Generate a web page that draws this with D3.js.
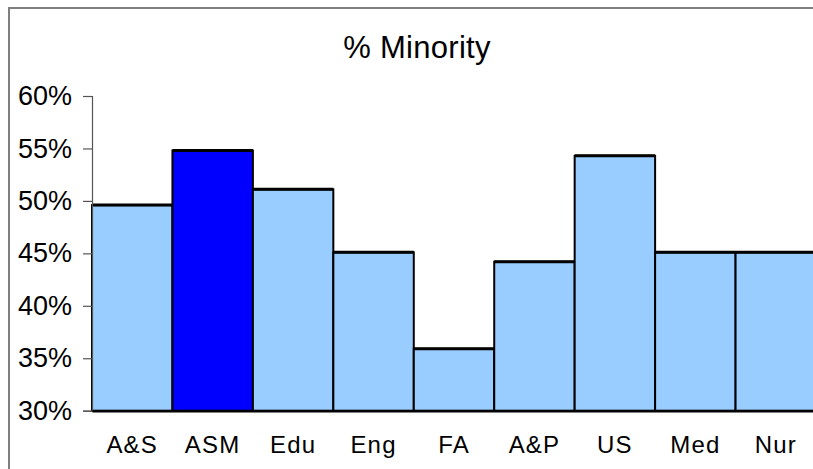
<!DOCTYPE html>
<html>
<head>
<meta charset="utf-8">
<script src="https://cdn.jsdelivr.net/npm/d3@7"></script>
<style>
	html, body { margin: 0; padding: 0; background: #fff; overflow: hidden; }
	text { font-family: "Liberation Sans", Arial, sans-serif; fill: #000; }
</style>
</head>
<body>
<div id="chart"></div>
<script>
// data
const categories = ['A&S', 'ASM', 'Edu', 'Eng', 'FA', 'A&P', 'US', 'Med', 'Nur'];
const minorityPct = [49.6, 54.8, 51.1, 45.1, 35.9, 44.2, 54.3, 45.1, 45.1];
const highlight = ['ASM'];
const yTicks = [30, 35, 40, 45, 50, 55, 60];

const W = 813, H = 469;
const options = {
	mLeft: 92,
	mTop: 96,
	plotW: 724,
	plotH: 314.7
};

const svg = d3.select('#chart').append('svg')
	.attr('width', W)
	.attr('height', H);

// outer chart border
svg.append('rect')
	.attr('x', 9).attr('y', 8)
	.attr('width', 900).attr('height', 600)
	.attr('fill', '#fff')
	.attr('stroke', '#7f7f7f')
	.attr('stroke-width', 2);

svg.append('text')
	.attr('x', 417).attr('y', 58)
	.attr('text-anchor', 'middle')
	.style('font-size', '31px')
	.style('letter-spacing', '0.3px')
	.text('% Minority');

const g = svg.append('g')
	.attr('transform', 'translate(' + options.mLeft + ',' + options.mTop + ')');

const x = d3.scaleBand().domain(categories).range([0, options.plotW]).padding(0);
const y = d3.scaleLinear().domain([30, 60]).range([options.plotH, 0]);

// bars
g.selectAll('rect.bar')
	.data(categories)
	.enter()
	.append('rect')
	.attr('class', 'bar')
	.attr('x', d => x(d))
	.attr('y', (d, i) => y(minorityPct[i]))
	.attr('width', x.bandwidth())
	.attr('height', (d, i) => y(30) - y(minorityPct[i]))
	.attr('fill', d => highlight.includes(d) ? '#0000ff' : '#99ccff')
	.attr('stroke', '#000')
	.attr('stroke-width', 2);

// thicker top edges
g.selectAll('line.top')
	.data(categories)
	.enter()
	.append('line')
	.attr('x1', d => x(d))
	.attr('x2', d => x(d) + x.bandwidth())
	.attr('y1', (d, i) => y(minorityPct[i]))
	.attr('y2', (d, i) => y(minorityPct[i]))
	.attr('stroke', '#000')
	.attr('stroke-width', 3);

// y axis
const yAxis = d3.axisLeft(y)
	.tickValues(yTicks)
	.tickSize(9)
	.tickPadding(11)
	.tickFormat(d => d + '%');

const ya = g.append('g').call(yAxis);
ya.select('.domain').attr('stroke', '#555').attr('stroke-width', 1.2);
ya.selectAll('.tick line').attr('stroke', '#555').attr('stroke-width', 1.2);
ya.selectAll('.tick text')
	.style('font-size', '27px')
	.style('font-family', '"Liberation Sans", Arial, sans-serif')
	.attr('fill', '#000');

// x axis
const xAxis = d3.axisBottom(x).tickSize(0).tickPadding(25);
const xa = g.append('g')
	.attr('transform', 'translate(0,' + options.plotH + ')')
	.call(xAxis);
xa.select('.domain').attr('stroke', '#000').attr('stroke-width', 2.5);
xa.selectAll('.tick text')
	.style('font-size', '24px')
	.style('letter-spacing', '1.2px')
	.style('font-family', '"Liberation Sans", Arial, sans-serif')
	.attr('fill', '#000');
</script>
</body>
</html>
